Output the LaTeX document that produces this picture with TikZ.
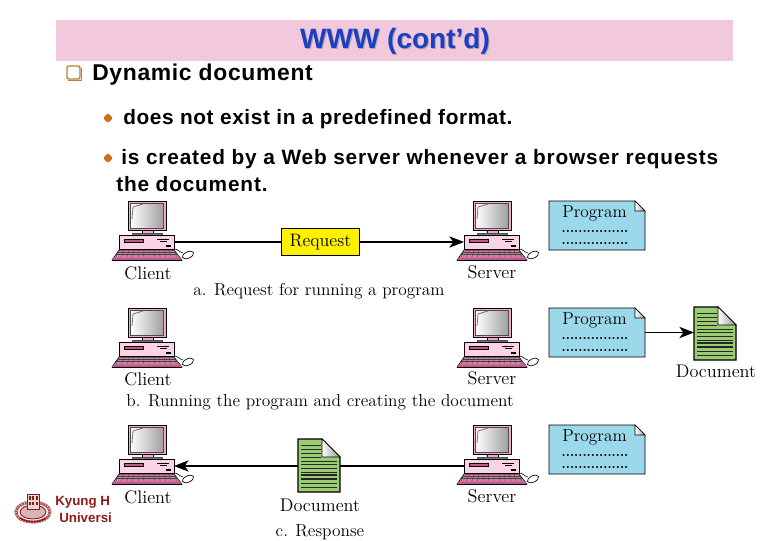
\documentclass[tikz,border=0pt]{standalone}
\usepackage{fontspec}
\usetikzlibrary{arrows.meta}
\setmainfont{Latin Modern Roman}
\newfontfamily\arialf{Liberation Sans}
\newfontfamily\arialsp[LetterSpace=3]{Liberation Sans}
\newfontfamily\arialspb[LetterSpace=4]{Liberation Sans}
\definecolor{bandpink}{HTML}{F2C8DC}
\definecolor{titleblue}{HTML}{1C3FC4}
\definecolor{bulletor}{HTML}{C8701E}
\definecolor{boxgold}{HTML}{B8862A}
\definecolor{progblue}{HTML}{9AD8EA}
\definecolor{docgreen}{HTML}{9ACD72}
\definecolor{pcpink}{HTML}{F5A8CC}
\definecolor{pclight}{HTML}{FBD3E6}
\definecolor{keypink}{HTML}{C2588A}
\definecolor{logored}{HTML}{8E1C1C}
\definecolor{logobrown}{HTML}{A85A58}
\tikzset{
  px/.style={x=0.75pt,y=-0.75pt},
  anchorbox/.style={inner sep=0pt,outer sep=0pt,anchor=north west},
  lbl/.style={inner sep=0pt,font=\fontsize{13pt}{15pt}\selectfont},
  lblb/.style={inner sep=0pt,font=\fontsize{13.7pt}{15pt}\selectfont},
  dotsline/.style={inner sep=0pt,anchor=base,font=\bfseries\fontsize{9.8pt}{11pt}\selectfont},
  bodytext/.style={inner sep=0pt,anchor=base west,font=\arialsp\bfseries\fontsize{15.6pt}{18pt}\selectfont},
  bodytextb/.style={inner sep=0pt,anchor=base west,font=\arialspb\bfseries\fontsize{15.6pt}{18pt}\selectfont},
  titletext/.style={inner sep=0pt,font=\arialf\bfseries\fontsize{21pt}{23pt}\selectfont},
  bulletdia/.style={fill=bulletor,rounded corners=1pt},
  link/.style={line width=0.9pt,-{Stealth[length=11pt,width=8.5pt,inset=3pt]}},
  computer/.pic={
    % monitor
    \draw[fill=pcpink,line width=.6pt] (9,-34) rectangle (47,-5);
    \shade[left color=white,right color=gray!75,draw=black!70,line width=.3pt] (11.5,-32) rectangle (44.5,-7);
    \draw[black!55,line width=.6pt] (13,-16) -- (14,-28) -- (24,-31);
    \draw[fill=pcpink,line width=.3pt] (23,-5) rectangle (34,-2);
    \draw[fill=black!55,draw=black!70,line width=.3pt] (13,-2) rectangle (43,0);
    % base unit
    \node[anchorbox,draw=black,fill=pclight,line width=.6pt,minimum width=41.25pt,minimum height=10.5pt] (-base) at (0,0) {};
    \draw[fill=keypink,line width=.2pt] (5,4) rectangle (24,7.5);
    \draw[line width=.5pt] (38,4.5) -- (50,4.5);
    \draw[line width=.8pt] (41,6.5) -- (48,6.5);
    \fill (47,10) rectangle (52,12);
    % keyboard
    \draw[fill=keypink!75,line width=.4pt] (0,15) -- (55,15) -- (63,25) -- (-7,25) -- cycle;
    \foreach \k in {0,5,...,55} {\draw[black!75,line width=.25pt] (\k,15) -- (\k*1.1-3,22);}
    \draw[black!75,line width=.3pt] (-1,17) -- (57,17);
    \draw[black!75,line width=.3pt] (-3,19.5) -- (59,19.5);
    \fill[keypink] (-5,22.5) -- (61,22.5) -- (63,25) -- (-7,25) -- cycle;
    \draw[line width=.5pt] (-7,25) -- (63,25);
    % mouse
    \draw[line width=.4pt] (55,14) .. controls (59,14) and (60,17) .. (64,18);
    \draw[fill=white,line width=.5pt,rotate around={25:(69,20)}] (69,20) ellipse (6 and 3.2);
  },
  programbox/.pic={
    \draw[fill=progblue,line width=.7pt] (0,0) -- (86,0) -- (96,10) -- (96,49) -- (0,49) -- cycle;
    \shade[left color=white,right color=gray!80,draw=black,line width=.5pt] (86,0) -- (86,10) -- (96,10) -- cycle;
  },
  docpage/.pic={
    \draw[fill=docgreen,line width=1pt] (0,0) -- (24,0) -- (42,18) -- (42,53) -- (0,53) -- cycle;
    \foreach \ly/\lw in {6/.5,10/.7,14/.5,18/.4,22/.6,25/.3,29/.5,33/.4,36/.9,40/.9,44/.5,48/.7} {
      \draw[black!85,line width=\lw pt] (3,\ly) -- ({\ly<20 ? 23 : 39},\ly);}
    \shade[left color=white,right color=gray!85,draw=black,line width=.5pt] (24,0) -- (24,18) -- (42,18) -- cycle;
  }
}
\begin{document}
\begin{tikzpicture}[px]
\useasboundingbox (0,0) rectangle (780,540);
% header
\fill[bandpink] (56,20) rectangle (733,61);
\node[titletext,text=gray!70] at (396,42) {WWW (cont’d)};
\node[titletext,text=titleblue] (title) at (395,41) {WWW (cont’d)};
% bullets
\draw[boxgold,line width=1.1pt,rounded corners=1.5pt,fill=white] (67,66) rectangle (80,79);
\draw[boxgold,line width=1pt] (68,80.5) -- (81.5,80.5) -- (81.5,68);
\node[bodytext,font=\arialsp\bfseries\fontsize{17.15pt}{20pt}\selectfont] (t0) at (92,80) {Dynamic document};
\path[bulletdia] (108,113) -- (113,118) -- (108,123) -- (103,118) -- cycle;
\node[bodytext] (t1) at (123,124.5) {does not exist in a predefined format.};
\path[bulletdia] (108,153) -- (113,158) -- (108,163) -- (103,158) -- cycle;
\node[bodytextb] (t2) at (121,164) {is created by a Web server whenever a browser requests};
\node[bodytextb] (t3) at (116,191) {the document.};
% computers
\pic (c1) at (119,235) {computer};
\pic (s1) at (464,235) {computer};
\pic (c2) at (119,342) {computer};
\pic (s2) at (464,342) {computer};
\pic (c3) at (119,459) {computer};
\pic (s3) at (464,459) {computer};
\node[lblb] (lc1) at (148,273) {Client};
\node[lblb] (ls1) at (492,272.5) {Server};
\node[lblb] (lc2) at (148,379) {Client};
\node[lblb] (ls2) at (492,378.5) {Server};
\node[lblb] (lc3) at (148,497) {Client};
\node[lblb] (ls3) at (492,496.5) {Server};
% programs
\foreach \n/\yy in {p1/201,p2/308,p3/425} {
  \node[anchorbox,minimum width=72pt,minimum height=36.75pt] (\n) at (549,\yy) {};
  \pic at (\n.north west) {programbox};
}
\foreach \n/\yy in {1/201,2/308,3/425} {
  \node[lbl] (pt\n) at (594.5,\yy+12.5) {Program};
  \node[dotsline] (pa\n) at (595,\yy+31) {................};
  \node[dotsline] (pb\n) at (595,\yy+43) {................};
}
% documents
\node[anchorbox,minimum width=31.5pt,minimum height=39.75pt] (d2) at (694,307) {};
\pic at (d2.north west) {docpage};
\node[lblb] (ld2) at (716,371.5) {Document};
% connectors
\node[anchorbox,draw=black,line width=.7pt,fill=yellow,minimum width=59pt,minimum height=20.25pt,font=\fontsize{13.5pt}{15pt}\selectfont] (req) at (281,228.5) {Request};
\draw[line width=.9pt] (c1-base.east) -- (req.west);
\draw[link] (req.east) -- (s1-base.west);
\draw[link] (p2.east) -- (p2.east -| d2.west);
\draw[link] (s3-base.west) -- (c3-base.east);
\node[anchorbox,minimum width=31.5pt,minimum height=39.75pt] (d3) at (298,439) {};
\pic at (d3.north west) {docpage};
\node[lblb] (ld3) at (320,505) {Document};
% captions
\node[lbl] (cap1) at (319,291) {a. Request for running a program};
\node[lbl] (cap2) at (320,402) {b. Running the program and creating the document};
\node[lbl] (cap3) at (320,532) {c. Response};
% logo
\draw[logobrown,line width=2.4pt,dash pattern=on 1.5pt off .5pt] (33,512) ellipse (17 and 10);
\fill[logobrown!45] (33,512) ellipse (13 and 7);
\draw[logored,line width=.7pt] (33,512) ellipse (13 and 7);
\draw[logored,line width=.5pt,fill=logobrown!25] (27,494) rectangle (39,509);
\foreach \wx in {28.5,32,35.5} {\fill[logored] (\wx,496) rectangle (\wx+2,500); \fill[logored] (\wx,502) rectangle (\wx+2,505);}
\draw[logored,line width=1pt] (20,518) .. controls (28,523) and (38,523) .. (46,518);
\node[inner sep=0pt,anchor=base west,text=logored,font=\arialf\bfseries\fontsize{10pt}{12pt}\selectfont] (k1) at (55,505) {Kyung H};
\node[inner sep=0pt,anchor=base west,text=logored,font=\arialf\bfseries\fontsize{10pt}{12pt}\selectfont] (k2) at (59,522) {Universi};
\end{tikzpicture}
\end{document}
